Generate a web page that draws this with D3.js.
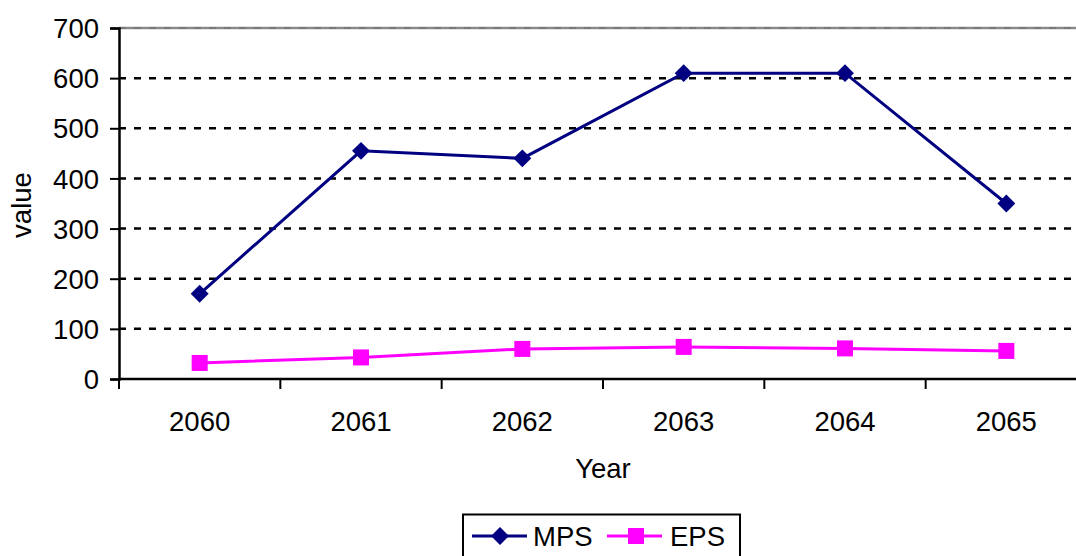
<!DOCTYPE html>
<html><head><meta charset="utf-8">
<script src="https://cdn.jsdelivr.net/npm/d3@7"></script>
<style>body{margin:0;background:#fff}svg{display:block}text{font-family:"Liberation Sans",Arial,sans-serif;fill:#000}</style>
</head><body><svg id="c" width="1076" height="556"></svg>
<script>
const years = ["2060","2061","2062","2063","2064","2065"];
const mps = [170, 455, 440, 610, 610, 350];
const eps = [32, 43, 60, 64, 61, 56];
const yTicks = [0,100,200,300,400,500,600,700];
const seriesNames = ["MPS","EPS"];
const seriesColors = ["#000080","#FF00FF"];

(function(){
const svg = d3.select("#c");
const pL = 119, pR = 1087, pT = 28, pB = 379;
const fs = "27.5px";
const x = d3.scaleBand().domain(years).range([pL, pR]);
const y = d3.scaleLinear().domain([0,700]).range([pB, pT]);

// grid
svg.append("line").attr("x1",pL).attr("x2",1076).attr("y1",y(700)).attr("y2",y(700))
  .attr("stroke","#8a8a8a").attr("stroke-width",2.5);
svg.append("g").selectAll("line").data(yTicks.filter(d=>d>0)).join("line")
  .attr("x1",pL).attr("x2",1076).attr("y1",d=>y(d)).attr("y2",d=>y(d))
  .attr("stroke",d=>d===700?"#666":"#000").attr("stroke-width",d=>d===700?1:2.5).attr("stroke-dasharray","7,8");

// y axis
const ya = d3.axisLeft(y).tickValues(yTicks).tickSize(9).tickPadding(11);
const gy = svg.append("g").attr("transform",`translate(${pL},0)`).call(ya);
gy.select(".domain").attr("stroke","#000").attr("stroke-width",2.5);
gy.selectAll(".tick line").attr("stroke","#000").attr("stroke-width",2);
gy.selectAll("text").style("font-size",fs).attr("dy","0.35em").attr("fill","#000");

// x axis
svg.append("line").attr("x1",pL).attr("x2",1076).attr("y1",pB).attr("y2",pB).attr("stroke","#000").attr("stroke-width",2.5);
const bounds = years.map(d=>x(d)).concat([x(years[years.length-1])+x.bandwidth()]);
svg.append("g").selectAll("line").data(bounds).join("line")
  .attr("x1",d=>d).attr("x2",d=>d).attr("y1",pB).attr("y2",pB+10).attr("stroke","#000").attr("stroke-width",2);
svg.append("g").selectAll("text").data(years).join("text")
  .attr("x",d=>x(d)+x.bandwidth()/2).attr("y",431).attr("text-anchor","middle").style("font-size",fs).text(d=>d);

svg.append("text").attr("x",603).attr("y",478).attr("text-anchor","middle").style("font-size",fs).text("Year");
svg.append("text").attr("transform","translate(31,205) rotate(-90)").attr("text-anchor","middle").style("font-size",fs).text("value");

const cx = d => x(d)+x.bandwidth()/2;
const line = d3.line().x((d,i)=>cx(years[i])).y(d=>y(d));
svg.append("path").datum(mps).attr("d",line).attr("fill","none").attr("stroke",seriesColors[0]).attr("stroke-width",3);
svg.append("path").datum(eps).attr("d",line).attr("fill","none").attr("stroke",seriesColors[1]).attr("stroke-width",3);
svg.append("g").selectAll("path").data(mps).join("path")
  .attr("transform",(d,i)=>`translate(${cx(years[i])},${y(d)}) rotate(45)`)
  .attr("d",d3.symbol().type(d3.symbolSquare).size(160)).attr("fill",seriesColors[0]);
svg.append("g").selectAll("rect").data(eps).join("rect")
  .attr("x",(d,i)=>cx(years[i])-8).attr("y",d=>y(d)-8).attr("width",16).attr("height",16).attr("fill",seriesColors[1]);

// legend
const lg = svg.append("g");
lg.append("rect").attr("x",463).attr("y",514.5).attr("width",277).attr("height",50).attr("fill","#fff").attr("stroke","#000").attr("stroke-width",2);
const ly = 536;
lg.append("line").attr("x1",472).attr("x2",527).attr("y1",ly).attr("y2",ly).attr("stroke",seriesColors[0]).attr("stroke-width",3);
lg.append("path").attr("transform",`translate(500,${ly}) rotate(45)`).attr("d",d3.symbol().type(d3.symbolSquare).size(160)).attr("fill",seriesColors[0]);
lg.append("text").attr("x",533).attr("y",ly+10).style("font-size",fs).text(seriesNames[0]);
lg.append("line").attr("x1",607).attr("x2",662).attr("y1",ly).attr("y2",ly).attr("stroke",seriesColors[1]).attr("stroke-width",3);
lg.append("rect").attr("x",628).attr("y",ly-8).attr("width",16).attr("height",16).attr("fill",seriesColors[1]);
lg.append("text").attr("x",670).attr("y",ly+10).style("font-size",fs).text(seriesNames[1]);
})();
</script></body></html>
